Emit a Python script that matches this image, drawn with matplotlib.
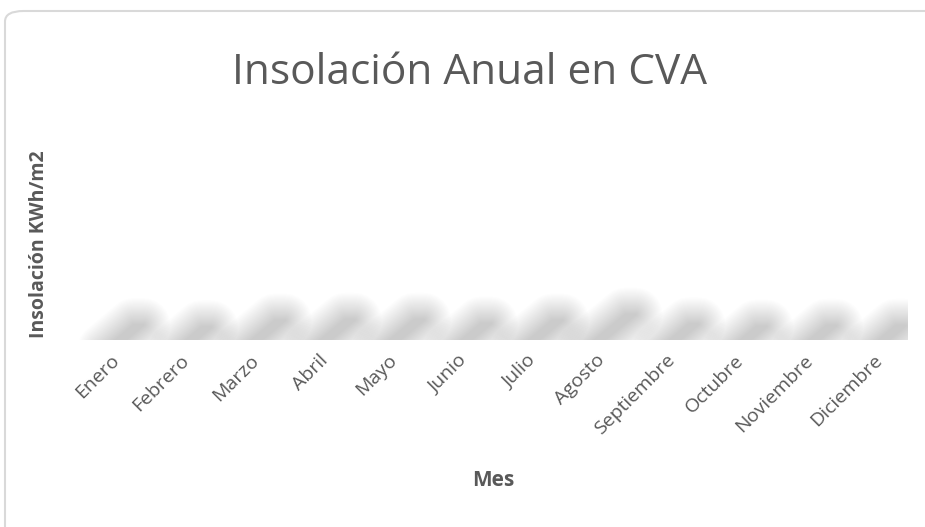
import matplotlib
matplotlib.use("Agg")
import matplotlib.pyplot as plt
from matplotlib.patches import FancyBboxPatch
import numpy as np

months = ["Enero", "Febrero", "Marzo", "Abril", "Mayo", "Junio", "Julio",
          "Agosto", "Septiembre", "Octubre", "Noviembre", "Diciembre"]
insolation = [1.0, 0.85, 1.3, 1.35, 1.35, 1.1, 1.3, 1.7, 1.05, 0.9, 0.95, 0.95]

title = "Insolación Anual en CVA"
ylabel = "Insolación KWh/m2"
xlabel = "Mes"

plt.rcParams['font.family'] = ['Open Sans', 'DejaVu Sans']
txt = "#595959"

W, H = 925, 527
fig = plt.figure(figsize=(W / 100, H / 100), dpi=100)

# rounded chart border
border = FancyBboxPatch((5 / W, -20 / H), 940 / W, (527 - 11 + 20) / H,
                        boxstyle="round,pad=0,rounding_size=0.02",
                        transform=fig.transFigure, facecolor="none",
                        edgecolor="#d9d9d9", linewidth=1.5, zorder=-1)
fig.patches.append(border)

ax_l, ax_r, ax_t, ax_b = 76, 908, 130, 340
ax = fig.add_axes([ax_l / W, (H - ax_b) / H, (ax_r - ax_l) / W, (ax_b - ax_t) / H])
ax.set_facecolor("none")
x = np.arange(len(months))
ymax = 7
ax.set_xlim(-0.5, len(months) - 0.5)
ax.set_ylim(0, ymax)

sx = (ax_r - ax_l) / len(months)   # px per x unit
sy = (ax_b - ax_t) / ymax          # px per y unit


def hull(pts):
    pts = sorted(map(tuple, pts))
    def cross(o, a, b):
        return (a[0] - o[0]) * (b[1] - o[1]) - (a[1] - o[1]) * (b[0] - o[0])
    lower, upper = [], []
    for p in pts:
        while len(lower) >= 2 and cross(lower[-2], lower[-1], p) <= 0:
            lower.pop()
        lower.append(p)
    for p in reversed(pts):
        while len(upper) >= 2 and cross(upper[-2], upper[-1], p) <= 0:
            upper.pop()
        upper.append(p)
    return np.array(lower[:-1] + upper[:-1])


theta = np.linspace(0, 2 * np.pi, 24, endpoint=False)
nlay = 26
D = 26.0
for xi, v in zip(x, insolation):
    hpx = v * sy
    top = 0.5 * hpx
    sk = 1.3 * top
    cx = xi * sx + 18 - sk / 2
    hw = 5
    core = np.array([[cx - hw - 10, -10], [cx + hw - 10, -10],
                     [cx + hw + sk, top], [cx - hw + sk, top]])
    for k in range(nlay):
        d = 1 + D * k / (nlay - 1)
        circ = np.stack([np.cos(theta) * d, np.sin(theta) * d], axis=1)
        pts = (core[:, None, :] + circ[None, :, :]).reshape(-1, 2)
        poly = hull(pts)
        ax.fill(poly[:, 0] / sx, poly[:, 1] / sy, color="#000000",
                alpha=0.0075, lw=0)

for sp in ax.spines.values():
    sp.set_visible(False)
ax.set_yticks([])
ax.set_xticks(x)
ax.set_xticklabels(months, rotation=45, ha="right", rotation_mode="anchor",
                   fontsize=14, color=txt)
ax.tick_params(axis="x", length=0, pad=8)

fig.text(39 / W, 1 - 244 / H, ylabel, ha="center", va="center", rotation=90,
         fontsize=14, fontweight="bold", color=txt)
fig.text(470 / W, 1 - 73 / H, title, ha="center", va="center",
         fontsize=30.5, color=txt)
fig.text(493 / W, 1 - 481 / H, xlabel, ha="center", va="center",
         fontsize=15, fontweight="bold", color=txt)

fig.savefig("out.png", dpi=100, facecolor="white")
